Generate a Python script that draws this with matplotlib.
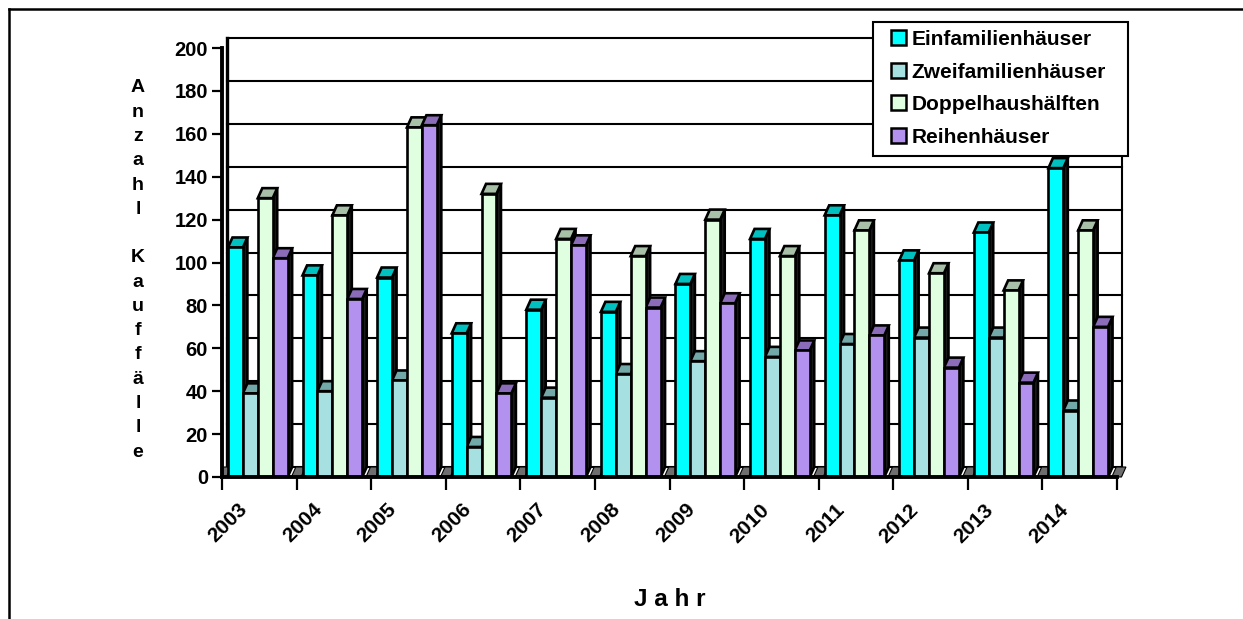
import numpy as np
import matplotlib
matplotlib.use("Agg")
import matplotlib.pyplot as plt
from matplotlib.patches import Polygon, Rectangle, Patch
from matplotlib.lines import Line2D
from matplotlib.transforms import offset_copy

plt.rcParams["font.family"] = ["Liberation Sans", "DejaVu Sans"]
plt.rcParams["font.weight"] = "bold"

years = [str(y) for y in range(2003, 2015)]
einfamilien = [107, 94, 93, 67, 78, 77, 90, 111, 122, 101, 114, 144]
zweifamilien = [39, 40, 45, 14, 37, 48, 54, 56, 62, 65, 65, 31]
doppelhaus = [130, 122, 163, 132, 111, 103, 120, 103, 115, 95, 87, 115]
reihen = [102, 83, 164, 39, 108, 79, 81, 59, 66, 51, 44, 70]

series_names = ["Einfamilienhäuser", "Zweifamilienhäuser",
                "Doppelhaushälften", "Reihenhäuser"]
series_values = [einfamilien, zweifamilien, doppelhaus, reihen]
front_colors = ["#00ffff", "#a6e0e0", "#e0ffe0", "#b391ee"]
top_colors = ["#00c0c0", "#73a8a8", "#a8c0a8", "#8a6cb8"]
side_color = "#1a1a1a"

y_ticks = list(range(0, 201, 20))

W, H, DPI = 1243, 619, 100
fig = plt.figure(figsize=(W / DPI, H / DPI), dpi=DPI)
fig.patch.set_facecolor("white")

# plot area in pixels
ax_l, ax_r, ax_t, ax_b = 222, 1117, 48, 477
ax = fig.add_axes([ax_l / W, 1 - ax_b / H, (ax_r - ax_l) / W, (ax_b - ax_t) / H])
n = len(years)
ax.set_xlim(0, n)
ax.set_ylim(0, 200)
ax.patch.set_alpha(0)

# depth of the pseudo 3D look, pixels -> data units
depth_px = (4.5, 10)
ddx = depth_px[0] * n / (ax_r - ax_l)
ddy = depth_px[1] * 200 / (ax_b - ax_t)

# back wall with gridlines
for v in y_ticks:
    ax.plot([ddx, n + ddx], [v + ddy, v + ddy], color="black", lw=1.5,
            clip_on=False, zorder=1)
ax.plot([n + ddx, n + ddx], [ddy, 200 + ddy], color="black", lw=1.5,
        clip_on=False, zorder=1)
ax.plot([ddx, ddx], [ddy, 200 + ddy], color="black", lw=2.4,
        clip_on=False, zorder=1)
ax.plot([n, n + ddx], [0, ddy], color="black", lw=1.5, clip_on=False, zorder=1)

# empty slots at the category boundaries show only a grey floor cap
for k in range(n + 1):
    x0, x1 = k - 0.07, k + 0.06
    ax.add_patch(Polygon([(x0, 0), (x1, 0), (x1 + ddx, ddy), (x0 + ddx, ddy)],
                         closed=True, facecolor="#6e6e6e", edgecolor="black",
                         lw=0.8, zorder=2.7, clip_on=(k == 0)))

bar_w = 0.2
offset0 = 0.08
for j, (vals, fc, tc) in enumerate(zip(series_values, front_colors, top_colors)):
    xs = np.arange(n) + offset0 + j * bar_w
    ax.bar(xs, vals, width=bar_w, align="edge", color=fc, edgecolor="black",
           linewidth=1.9, zorder=3)
    for x0, v in zip(xs, vals):
        x1 = x0 + bar_w
        top = [(x0, v), (x1, v), (x1 + ddx, v + ddy), (x0 + ddx, v + ddy)]
        side = [(x1, 0), (x1, v), (x1 + ddx, v + ddy), (x1 + ddx, ddy)]
        ax.add_patch(Polygon(side, closed=True, facecolor=side_color,
                             edgecolor="black", lw=1.9, zorder=2.5))
        ax.add_patch(Polygon(top, closed=True, facecolor=tc,
                             edgecolor="black", lw=1.9, zorder=2.6))

for s in ("top", "right"):
    ax.spines[s].set_visible(False)
ax.spines["left"].set_linewidth(2.8)
ax.spines["bottom"].set_linewidth(2.8)
ax.spines["left"].set_zorder(4)
ax.spines["bottom"].set_zorder(4)

ax.set_yticks(y_ticks)
ax.tick_params(axis="y", direction="out", length=7, width=1.6, labelsize=14.5, pad=3)
ax.set_xticks(range(n + 1))
ax.set_xticklabels([])
ax.tick_params(axis="x", direction="out", length=9, width=1.6)
for lab in ax.get_yticklabels():
    lab.set_fontweight("bold")

# rotated year labels under each category
lab_tr = offset_copy(ax.transData, fig=fig, x=-8, y=-23, units="dots")
for k, yr in enumerate(years):
    ax.text(k + 0.5, 0, yr, transform=lab_tr, rotation=45, ha="right", va="top",
            fontsize=15, fontweight="bold")

# stacked y axis title
ylab = "\n".join(list("Anzahl")) + "\n\n" + "\n".join(list("Kauffälle"))
fig.text(138 / W, 1 - 270 / H, ylab, ha="center", va="center", fontsize=14,
         fontweight="bold", linespacing=1.56)

fig.text(669.5 / W, 1 - 600 / H, "J a h r", ha="center", va="center",
         fontsize=17.5, fontweight="bold")

# legend with a plain black frame
frame = Rectangle((873 / W, 1 - 156 / H), 255 / W, 134 / H, transform=fig.transFigure,
                  facecolor="white", edgecolor="black", lw=1.5, zorder=4)
fig.add_artist(frame)
handles = [Patch(facecolor=c, edgecolor="black", linewidth=1.8) for c in front_colors]
leg = fig.legend(handles, series_names, loc="upper left",
                 bbox_to_anchor=(891 / W, 1 - 30 / H), frameon=False,
                 fontsize=15, handlelength=0.7, handleheight=0.7,
                 handletextpad=0.3, labelspacing=0.65, borderpad=0,
                 borderaxespad=0)
leg.set_zorder(5)

# outer chart border
fig.add_artist(Line2D([9 / W, 9 / W], [0, 1 - 9 / H], transform=fig.transFigure,
                      color="black", lw=1.8))
fig.add_artist(Line2D([9 / W, 1], [1 - 9 / H, 1 - 9 / H], transform=fig.transFigure,
                      color="black", lw=1.8))

fig.savefig("out.png", dpi=DPI)
